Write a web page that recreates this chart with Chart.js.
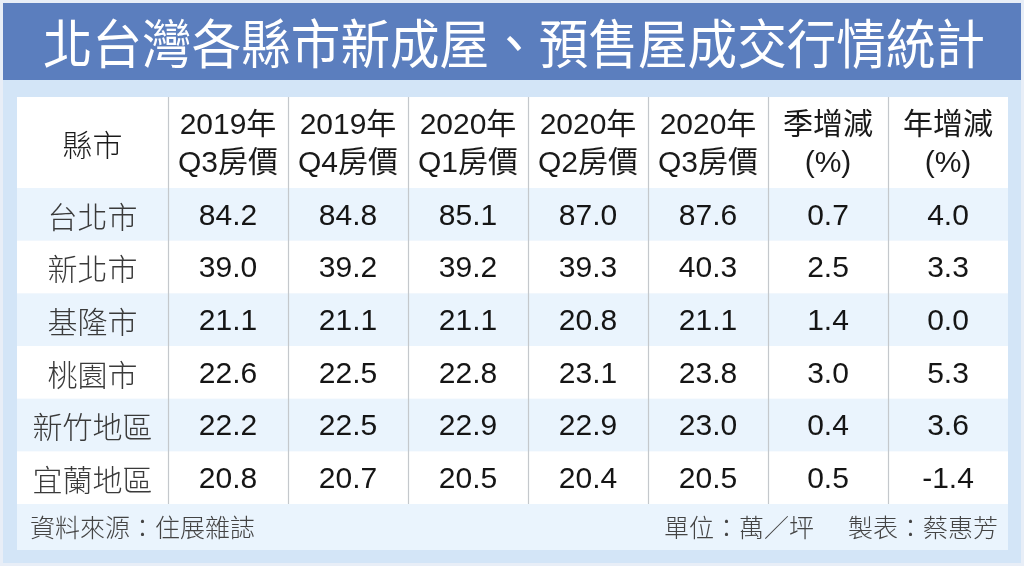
<!DOCTYPE html>
<html>
<head>
<meta charset="utf-8">
<script src="https://cdn.jsdelivr.net/npm/chart.js@4/dist/chart.umd.min.js"></script>
<style>
body{margin:0;background:#fff}
#wrap{width:1024px;height:566px}
</style>
</head>
<body>
<div id="wrap"><canvas id="chart"></canvas></div>
<script>
const title = '北台灣各縣市新成屋、預售屋成交行情統計';
const headers = [['縣市'], ['2019年', 'Q3房價'], ['2019年', 'Q4房價'], ['2020年', 'Q1房價'],
    ['2020年', 'Q2房價'], ['2020年', 'Q3房價'], ['季增減', '(%)'], ['年增減', '(%)']];
const regions = ['台北市', '新北市', '基隆市', '桃園市', '新竹地區', '宜蘭地區'];
const price2019Q3 = [84.2, 39.0, 21.1, 22.6, 22.2, 20.8];
const price2019Q4 = [84.8, 39.2, 21.1, 22.5, 22.5, 20.7];
const price2020Q1 = [85.1, 39.2, 21.1, 22.8, 22.9, 20.5];
const price2020Q2 = [87.0, 39.3, 20.8, 23.1, 22.9, 20.4];
const price2020Q3 = [87.6, 40.3, 21.1, 23.8, 23.0, 20.5];
const qoq = [0.7, 2.5, 1.4, 3.0, 0.4, 0.5];
const yoy = [4.0, 3.3, 0.0, 5.3, 3.6, -1.4];
const sourceNote = '資料來源：住展雜誌';
const unitNote = '單位：萬／坪';
const makerNote = '製表：蔡惠芳';

const columns = [price2019Q3, price2019Q4, price2020Q1, price2020Q2, price2020Q3, qoq, yoy];

// layout
const colWidths = [151, 120, 120, 120, 120, 120, 120, 120];
const colEdges = colWidths.reduce((a, w) => { a.push(a[a.length - 1] + w); return a; }, [0]);
const headerH = 91, footerH = 46;
const NUM = "30px 'Liberation Sans', 'Noto Sans CJK TC', sans-serif";
const CJK = "300 30px 'Noto Sans CJK TC', sans-serif";
const SMALL = "300 25px 'Noto Sans CJK TC', sans-serif";

const tablePlugin = {
    id: 'table',
    beforeDraw(chart) {
        const {ctx, width, height, chartArea: a, scales: {x, y}} = chart;
        ctx.save();
        // page + frame
        ctx.fillStyle = '#d3e5f7';
        ctx.fillRect(0, 0, width, height);
        ctx.strokeStyle = '#e8eef7';
        ctx.lineWidth = 3;
        ctx.strokeRect(1.5, 1.5, width - 3, height - 3);
        // title band
        ctx.fillStyle = '#5b7ebe';
        ctx.fillRect(3, 3, width - 6, 77);
        ctx.fillStyle = '#ffffff';
        ctx.font = "47px 'Noto Sans CJK TC', sans-serif";
        ctx.textAlign = 'center';
        ctx.textBaseline = 'middle';
        ctx.save();
        ctx.translate(width / 2 + 2, 44);
        ctx.scale(1.055, 1.14);
        ctx.fillText(title, 0, 0);
        ctx.restore();
        // table panel
        const left = x.getPixelForValue(0), right = x.getPixelForValue(colEdges[colEdges.length - 1]);
        ctx.fillStyle = '#ffffff';
        ctx.fillRect(left, a.top - headerH, right - left, a.bottom - a.top + headerH);
        regions.forEach((r, i) => {
            if (i % 2 === 0) {
                ctx.fillStyle = '#eaf4fd';
                const t = y.getPixelForValue(i), b = y.getPixelForValue(i + 1);
                ctx.fillRect(left, t, right - left, b - t);
            }
        });
        ctx.fillStyle = '#eaf4fd';
        ctx.fillRect(left, a.bottom, right - left, footerH);
        ctx.restore();
    },
    afterDraw(chart) {
        const {ctx, chartArea: a, scales: {x, y}} = chart;
        ctx.save();
        // column separators
        ctx.strokeStyle = '#c4c8cc';
        ctx.lineWidth = 1.2;
        colEdges.slice(1, -1).forEach(e => {
            const px = Math.round(x.getPixelForValue(e)) + 0.5;
            ctx.beginPath();
            ctx.moveTo(px, a.top - headerH);
            ctx.lineTo(px, a.bottom);
            ctx.stroke();
        });
        ctx.textAlign = 'center';
        ctx.textBaseline = 'middle';
        // header
        const hMid = a.top - headerH / 2 + 2;
        headers.forEach((lines, c) => {
            const cx = x.getPixelForValue((colEdges[c] + colEdges[c + 1]) / 2);
            ctx.fillStyle = '#1a1a1a';
            ctx.font = NUM;
            if (lines.length === 1) {
                ctx.font = CJK;
                ctx.fillText(lines[0], cx, hMid);
            } else {
                ctx.fillText(lines[0], cx, hMid - 19);
                ctx.fillText(lines[1], cx, hMid + 19);
            }
        });
        // body
        regions.forEach((r, i) => {
            const cy = y.getPixelForValue(i + 0.5) + 2;
            ctx.fillStyle = '#3a3a3a';
            ctx.font = CJK;
            ctx.fillText(r, x.getPixelForValue((colEdges[0] + colEdges[1]) / 2), cy);
            ctx.fillStyle = '#151515';
            ctx.font = NUM;
            columns.forEach((col, c) => {
                const cx = x.getPixelForValue((colEdges[c + 1] + colEdges[c + 2]) / 2);
                ctx.fillText(col[i].toFixed(1), cx, cy);
            });
        });
        // footer
        const fy = a.bottom + footerH / 2;
        ctx.font = SMALL;
        ctx.fillStyle = '#444444';
        ctx.textAlign = 'left';
        ctx.fillText(sourceNote, x.getPixelForValue(0) + 13, fy);
        ctx.textAlign = 'right';
        const rx = x.getPixelForValue(colEdges[colEdges.length - 1]);
        ctx.fillText(makerNote, rx - 10, fy);
        ctx.fillText(unitNote, rx - 194, fy);
        ctx.restore();
    }
};

function init() {
    const ctx = document.getElementById('chart').getContext('2d');
    new Chart(ctx, {
        type: 'scatter',
        data: {datasets: []},
        options: {
            responsive: true,
            maintainAspectRatio: false,
            animation: false,
            events: [],
            layout: {padding: {left: 17, right: 16, top: 188, bottom: 62}},
            plugins: {legend: {display: false}, tooltip: {enabled: false}},
            scales: {
                x: {type: 'linear', display: false, min: 0, max: colEdges[colEdges.length - 1]},
                y: {type: 'linear', display: false, reverse: true, min: 0, max: regions.length}
            }
        },
        plugins: [tablePlugin]
    });
}
init();
</script>
</body>
</html>
